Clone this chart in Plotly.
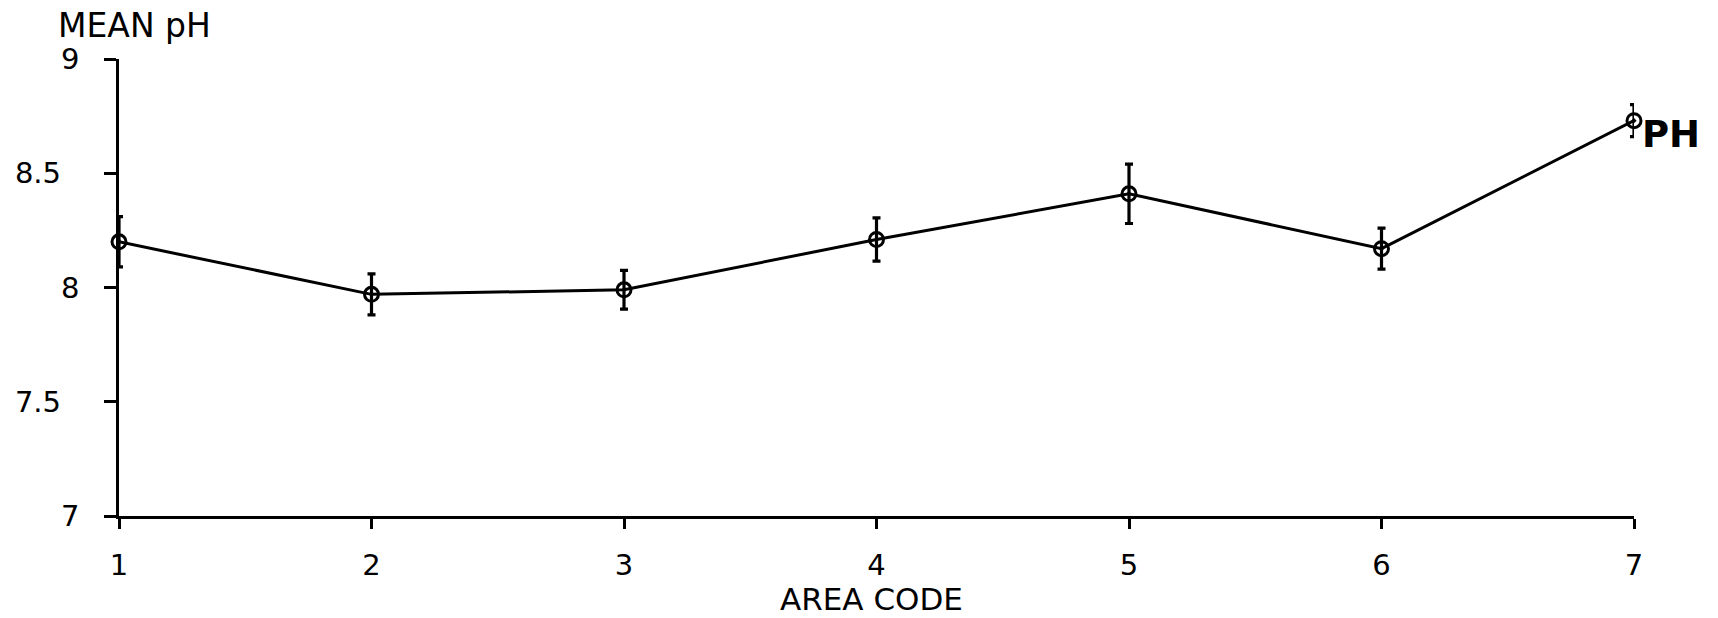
import plotly.graph_objects as go

area_code = [1, 2, 3, 4, 5, 6, 7]
mean_ph = [8.20, 7.97, 7.99, 8.21, 8.41, 8.17, 8.73]
ph_err = [0.11, 0.09, 0.085, 0.095, 0.13, 0.09, 0.07]
x_ticks = [1, 2, 3, 4, 5, 6, 7]
y_ticks = [7, 7.5, 8, 8.5, 9]
y_tick_labels = ["7", "7.5&nbsp;&nbsp;", "8", "8.5&nbsp;&nbsp;", "9"]

FONT = "DejaVu Sans"
W, H = 1718, 618
L, R, T, B = 119, 84, 59, 102
pw, ph = W - L - R, H - T - B

def px(x):
    return (x - L) / pw

def py(y):
    return (H - B - y) / ph

fig = go.Figure()
fig.add_trace(go.Scatter(
    x=area_code, y=mean_ph,
    mode="lines+markers",
    line=dict(color="black", width=3),
    marker=dict(symbol="circle-open-dot", size=14, color="black",
                line=dict(color="black", width=3)),
    error_y=dict(type="data", array=ph_err, visible=True,
                 color="black", thickness=3.2, width=4),
    cliponaxis=False,
    showlegend=False,
))

fig.update_layout(
    width=W, height=H,
    margin=dict(l=L, r=R, t=T, b=B),
    paper_bgcolor="white", plot_bgcolor="white",
    font=dict(family=FONT, color="black", size=29),
    xaxis=dict(range=[1, 7], tickvals=x_ticks, ticktext=[str(v) for v in x_ticks],
               showline=True, linecolor="black", linewidth=2.5,
               ticks="outside", ticklen=10, tickwidth=2.5, tickcolor="black",
               showgrid=False, zeroline=False, ticklabelstandoff=11,
               tickfont=dict(family=FONT, size=29)),
    yaxis=dict(range=[7, 9], tickvals=y_ticks, ticktext=y_tick_labels,
               showline=True, linecolor="black", linewidth=2.5,
               ticks="outside", ticklen=12, tickwidth=2.5, tickcolor="black",
               showgrid=False, zeroline=False, ticklabelstandoff=19,
               tickfont=dict(family=FONT, size=29)),
    annotations=[
        dict(text="MEAN pH", xref="paper", yref="paper", x=px(56), y=py(25),
             xanchor="left", yanchor="middle", showarrow=False,
             font=dict(family=FONT, size=33)),
        dict(text="AREA CODE", xref="paper", yref="paper", x=px(871), y=py(599),
             xanchor="center", yanchor="middle", showarrow=False,
             borderpad=0,
             font=dict(family=FONT, size=31)),
        dict(text="<b>PH</b>", xref="paper", yref="paper", x=px(1640), y=py(134),
             xanchor="left", yanchor="middle", showarrow=False,
             font=dict(family=FONT, size=37)),
    ],
)

fig.write_html("out.html")
